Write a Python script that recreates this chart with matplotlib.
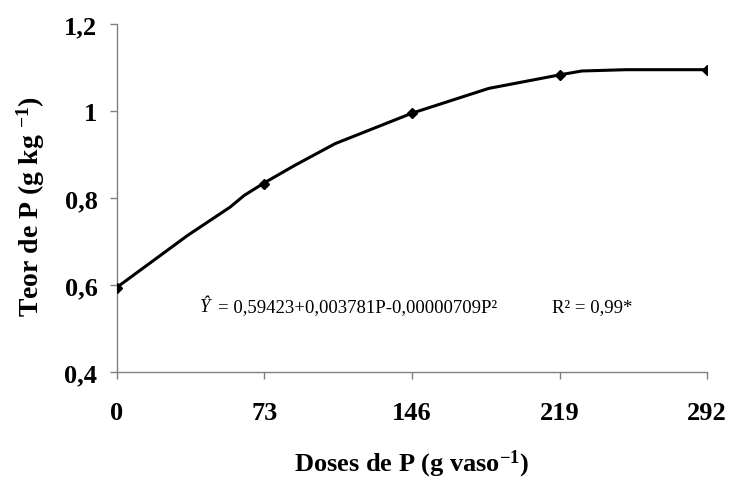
import matplotlib
matplotlib.use("Agg")
import matplotlib.pyplot as plt

# Observed means (markers)
doses = [0, 73, 146, 219, 292]
teor_p = [0.594, 0.832, 0.995, 1.082, 1.094]

# Smoothed response line as drawn
curve_x = [0, 18, 35, 56, 63, 73, 88, 108, 146, 184, 219, 230, 252, 292]
curve_y = [0.5946, 0.656, 0.714, 0.779, 0.806, 0.835, 0.875, 0.925, 0.995,
           1.052, 1.083, 1.092, 1.095, 1.095]

x_ticks = [0, 73, 146, 219, 292]
x_ticklabels = ["0", "73", "146", "219", "292"]
y_ticks = [0.4, 0.6, 0.8, 1.0, 1.2]
y_ticklabels = ["0,4", "0,6", "0,8", "1", "1,2"]

plt.rcParams["font.family"] = ["Liberation Serif", "DejaVu Serif"]
plt.rcParams["mathtext.fontset"] = "custom"
plt.rcParams["mathtext.rm"] = "Liberation Serif:bold"
plt.rcParams["mathtext.bf"] = "Liberation Serif:bold"
plt.rcParams["mathtext.it"] = "Liberation Serif:italic"

fig = plt.figure(figsize=(7.35, 4.81), dpi=100)
ax = fig.add_axes([0.159, 0.2245, 0.803, 0.7235])

ax.plot(curve_x, curve_y, color="black", lw=2.2, solid_joinstyle="round", zorder=3)
ax.plot(doses, teor_p, linestyle="none", marker="D", ms=5, color="black", zorder=4)

ax.set_xlim(0, 292)
ax.set_ylim(0.4, 1.2)
ax.set_xticks(x_ticks)
ax.set_xticklabels(x_ticklabels, fontsize=19, fontweight="bold")
ax.set_yticks(y_ticks)
ax.set_yticklabels(y_ticklabels, fontsize=19, fontweight="bold")

for side in ("top", "right"):
    ax.spines[side].set_visible(False)
for side in ("left", "bottom"):
    ax.spines[side].set_color("#808080")
    ax.spines[side].set_linewidth(1.0)
ax.tick_params(axis="both", direction="out", length=5, width=1.0, color="#808080")
ax.tick_params(axis="x", pad=16)
ax.tick_params(axis="y", pad=9)
ax.set_clip_on(False)

ax.set_xlabel(r"Doses de P (g vaso$^{-1}$)", fontsize=19, fontweight="bold", labelpad=17)
ax.set_ylabel(r"Teor de P (g kg $^{-1}$)", fontsize=20, fontweight="bold")
ax.yaxis.set_label_coords(-0.118, 0.477)

# Regression equation
ax.text(41, 0.551, "Ŷ", fontsize=13.5, style="italic", ha="left", va="center")
ax.text(50, 0.551, "= 0,59423+0,003781P-0,00000709P²", fontsize=13.5, ha="left", va="center")
ax.text(215.5, 0.551, "R² = 0,99*", fontsize=13.5, ha="left", va="center")

fig.savefig("out.png", dpi=100)
